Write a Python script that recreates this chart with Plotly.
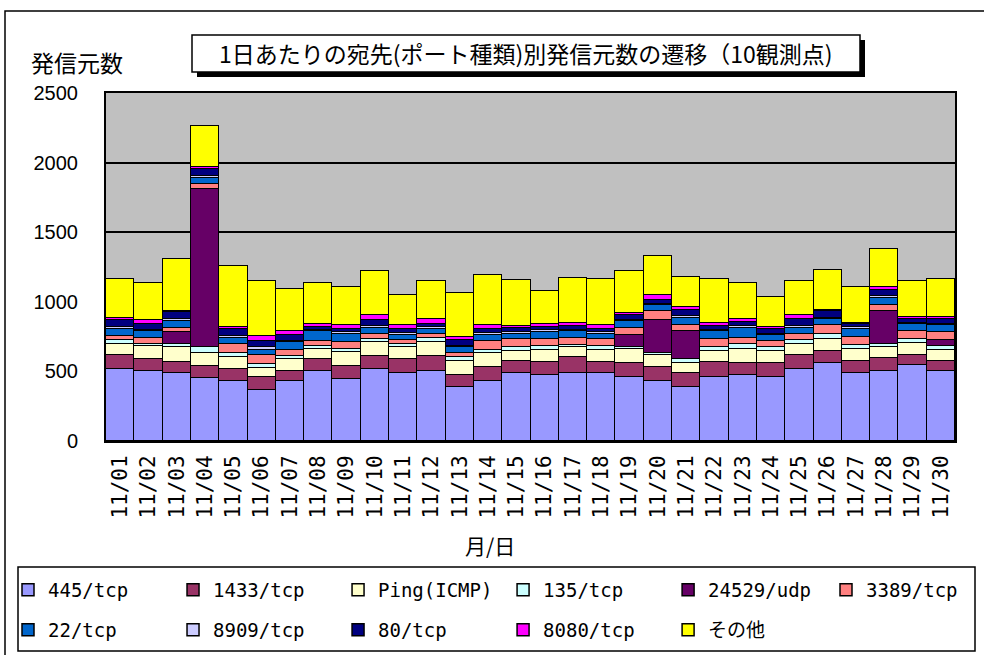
import plotly.graph_objects as go

dates = ["11/%02d" % d for d in range(1, 31)]

s445 = [514, 502, 490, 451, 433, 370, 430, 502, 445, 516, 490, 502, 390, 433, 490,
        473, 485, 485, 461, 433, 390, 461, 473, 461, 516, 557, 490, 504, 545, 504]
s1433 = [103, 86, 81, 87, 81, 91, 72, 84, 95, 96, 96, 110, 83, 100, 86,
         96, 115, 84, 96, 100, 95, 103, 89, 96, 101, 88, 86, 89, 72, 72]
ping = [83, 93, 105, 91, 86, 67, 86, 74, 96, 100, 86, 100, 101, 96, 69,
        88, 76, 88, 103, 84, 77, 81, 102, 88, 83, 86, 84, 83, 88, 81]
s135 = [24, 19, 24, 43, 29, 24, 24, 24, 24, 19, 28, 29, 26, 23, 27,
        24, 17, 24, 16, 12, 24, 27, 36, 27, 24, 41, 28, 24, 26, 27]
s24529 = [0, 0, 84, 1135, 0, 0, 0, 0, 0, 0, 0, 0, 0, 0, 0,
          0, 0, 0, 84, 243, 205, 0, 0, 0, 0, 0, 0, 234, 0, 45]
s3389 = [31, 43, 31, 41, 71, 65, 45, 33, 52, 41, 29, 31, 29, 65, 59,
         53, 50, 50, 53, 60, 41, 59, 43, 45, 48, 60, 60, 41, 60, 55]
s22 = [53, 46, 48, 43, 43, 40, 55, 74, 60, 43, 31, 36, 43, 43, 41,
       50, 46, 41, 47, 43, 55, 58, 72, 43, 43, 43, 60, 55, 46, 48]
s8909 = [8, 8, 10, 15, 10, 20, 10, 10, 10, 10, 15, 12, 12, 14, 12,
         10, 10, 12, 12, 12, 12, 12, 12, 12, 14, 12, 10, 12, 12, 12]
s80 = [52, 47, 52, 45, 55, 43, 38, 20, 26, 43, 33, 24, 40, 34, 31,
       26, 26, 24, 36, 29, 40, 24, 29, 36, 46, 47, 21, 41, 31, 35]
s8080 = [19, 28, 10, 20, 10, 36, 31, 22, 24, 35, 24, 31, 24, 24, 10,
         24, 26, 24, 12, 31, 24, 23, 19, 10, 28, 10, 10, 24, 10, 10]
other = [275, 263, 371, 293, 437, 390, 299, 291, 275, 318, 220, 275, 318, 363, 334,
         234, 322, 330, 301, 279, 215, 314, 260, 217, 247, 287, 258, 270, 260, 277]

series_names = ["445/tcp", "1433/tcp", "Ping(ICMP)", "135/tcp", "24529/udp", "3389/tcp",
                "22/tcp", "8909/tcp", "80/tcp", "8080/tcp", "その他"]
series_values = [s445, s1433, ping, s135, s24529, s3389, s22, s8909, s80, s8080, other]
series_colors = ["#9999FF", "#993366", "#FFFFCC", "#CCFFFF", "#660066", "#FF8080",
                 "#0066CC", "#CCCCFF", "#000080", "#FF00FF", "#FFFF00"]
# legend rows: first five of row 1, last of row 1, row 2
legend_ids = ["legend"] * 5 + ["legend3"] + ["legend2"] * 5

title_text = "1日あたりの宛先(ポート種類)別発信元数の遷移（10観測点)"
y_title = "発信元数"
x_title = "月/日"

W, H = 984, 655
L, R, T, B = 106, 29, 93, 214
PW, PH = W - L - R, H - T - B


def px(x):
    return (x - L) / PW


def py(y):
    return (H - B - y) / PH


fig = go.Figure()
for name, vals, col, lid in zip(series_names, series_values, series_colors, legend_ids):
    fig.add_trace(go.Bar(
        x=dates, y=vals, name=name,
        marker=dict(color=col, line=dict(color="#000000", width=1.5)),
        legend=lid,
    ))

legend_font = dict(family="DejaVu Sans Mono, Noto Sans CJK JP", size=19, color="#000000")
leg_common = dict(orientation="h", xanchor="left", yanchor="middle",
                  entrywidthmode="fraction", entrywidth=0.1728,
                  font=legend_font, bgcolor="rgba(0,0,0,0)", itemwidth=30,
                  traceorder="normal")

fig.update_layout(
    width=W, height=H,
    margin=dict(l=L, r=R, t=T, b=B, autoexpand=False),
    paper_bgcolor="#FFFFFF", plot_bgcolor="#C0C0C0",
    barmode="stack", bargap=0,
    font=dict(family="Noto Sans CJK JP", color="#000000"),
    showlegend=True,
    legend=dict(x=px(8), y=py(590), **leg_common),
    legend3=dict(x=px(826), y=py(590), **leg_common),
    legend2=dict(x=px(8), y=py(630), **leg_common),
    xaxis=dict(
        type="category", tickangle=-90, showgrid=False,
        tickfont=dict(family="DejaVu Sans Mono", size=21, color="#000000"),
        showline=True, linecolor="#000000", linewidth=2, mirror=True,
        ticks="", ticklabelstandoff=4,
    ),
    yaxis=dict(
        range=[0, 2500], dtick=500, showgrid=True, gridcolor="#000000", gridwidth=1.5,
        tickfont=dict(family="Liberation Sans", size=20, color="#000000"),
        showline=True, linecolor="#000000", linewidth=2, mirror=True,
        ticks="", ticklabelstandoff=22, zeroline=False,
    ),
    shapes=[
        dict(type="rect", xref="paper", yref="paper",
             x0=px(5), x1=px(1000), y0=py(11), y1=py(700),
             line=dict(color="#000000", width=1.5), fillcolor="rgba(0,0,0,0)", layer="below"),
        dict(type="rect", xref="paper", yref="paper",
             x0=px(18), x1=px(975), y0=py(567), y1=py(651),
             line=dict(color="#000000", width=1.5), fillcolor="rgba(0,0,0,0)"),
        dict(type="rect", xref="paper", yref="paper",
             x0=px(197), x1=px(865), y0=py(40), y1=py(77),
             line=dict(width=0), fillcolor="#000000"),
        dict(type="rect", xref="paper", yref="paper",
             x0=px(192), x1=px(860), y0=py(35), y1=py(72),
             line=dict(color="#000000", width=1.5), fillcolor="#FFFFFF"),
    ],
    annotations=[
        dict(text=title_text, xref="paper", yref="paper", x=px(526), y=py(53),
             showarrow=False, xanchor="center", yanchor="middle",
             font=dict(family="Noto Sans CJK JP", size=23, color="#000000")),
        dict(text=y_title, xref="paper", yref="paper", x=px(77), y=py(62),
             showarrow=False, xanchor="center", yanchor="middle",
             font=dict(family="Noto Sans CJK JP", size=23, color="#000000")),
        dict(text=x_title, xref="paper", yref="paper", x=px(490), y=py(545),
             showarrow=False, xanchor="center", yanchor="middle",
             font=dict(family="Noto Sans CJK JP", size=21, color="#000000")),
    ],
)

fig.write_html("out.html", config={"displayModeBar": False},
               post_script="document.body.style.margin='0';")
